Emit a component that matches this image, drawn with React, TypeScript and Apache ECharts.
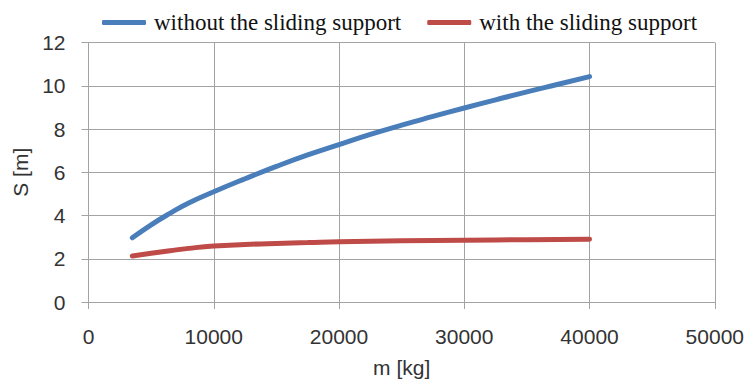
import React, { useEffect, useRef } from "react";
import * as echarts from "echarts";

// Stopping distance S [m] against mass m [kg]
const withoutSupport: [number, number][] = [
  [3500, 2.97], [5000, 3.57], [6500, 4.1], [8000, 4.58], [10000, 5.1],
  [12500, 5.7], [15000, 6.27], [17500, 6.8], [20000, 7.28], [22500, 7.75],
  [25000, 8.18], [27500, 8.58], [30000, 8.97], [32500, 9.35], [35000, 9.72],
  [37500, 10.07], [40000, 10.42],
];
const withSupport: [number, number][] = [
  [3500, 2.13], [5000, 2.25], [6500, 2.37], [8000, 2.48], [10000, 2.59],
  [12500, 2.66], [15000, 2.71], [17500, 2.75], [20000, 2.79], [25000, 2.83],
  [30000, 2.86], [35000, 2.88], [40000, 2.9],
];
const seriesNames = ["without the sliding support", "with the sliding support"];

const gridColor = "#a3a3a3";
const labelFont = "'Liberation Sans', Arial, sans-serif";

export default function App() {
  const ref = useRef<HTMLDivElement>(null);
  useEffect(() => {
    if (!ref.current) return;
    const chart = echarts.init(ref.current, undefined, { renderer: "svg" });
    chart.setOption({
      animation: false,
      backgroundColor: "#ffffff",
      legend: {
        left: 97,
        top: 6,
        icon: "roundRect",
        itemWidth: 44,
        itemHeight: 5,
        itemGap: 26,
        textStyle: {
          fontFamily: "'Liberation Serif', 'Times New Roman', serif",
          fontSize: 23,
          color: "#111",
          padding: [0, 0, 0, 3],
        },
        data: seriesNames,
      },
      grid: { left: 88.5, right: 31.5, top: 42.5, bottom: 80.3 },
      xAxis: {
        type: "value",
        min: 0,
        max: 50000,
        interval: 10000,
        name: "m [kg]",
        nameLocation: "middle",
        nameGap: 55,
        nameTextStyle: { fontFamily: labelFont, fontSize: 21, color: "#333" },
        axisLine: { lineStyle: { color: gridColor, width: 1 } },
        axisTick: { show: true, length: 7, lineStyle: { color: gridColor } },
        axisLabel: {
          fontFamily: labelFont,
          fontSize: 21,
          color: "#333",
          margin: 24,
          formatter: (v: number) => String(v),
        },
        splitLine: { show: true, lineStyle: { color: gridColor, width: 1 } },
      },
      yAxis: {
        type: "value",
        min: 0,
        max: 12,
        interval: 2,
        name: "S [m]",
        nameLocation: "middle",
        nameGap: 58,
        nameTextStyle: { fontFamily: labelFont, fontSize: 21, color: "#333" },
        axisLine: { show: true, lineStyle: { color: gridColor, width: 1 } },
        axisTick: { show: true, length: 7, lineStyle: { color: gridColor } },
        axisLabel: { fontFamily: labelFont, fontSize: 21, color: "#333", margin: 23 },
        splitLine: { show: true, lineStyle: { color: gridColor, width: 1 } },
      },
      series: [
        {
          name: seriesNames[0],
          type: "line",
          data: withoutSupport,
          smooth: 0.5,
          showSymbol: false,
          color: "#4a7ebb",
          lineStyle: { width: 5, color: "#4a7ebb", cap: "round" },
        },
        {
          name: seriesNames[1],
          type: "line",
          data: withSupport,
          smooth: 0.5,
          showSymbol: false,
          color: "#be4b48",
          lineStyle: { width: 5, color: "#be4b48", cap: "round" },
        },
      ],
    });
    return () => chart.dispose();
  }, []);
  return (
    <div
      ref={ref}
      style={{ position: "fixed", left: 0, top: 0, width: 747, height: 383 }}
    />
  );
}
